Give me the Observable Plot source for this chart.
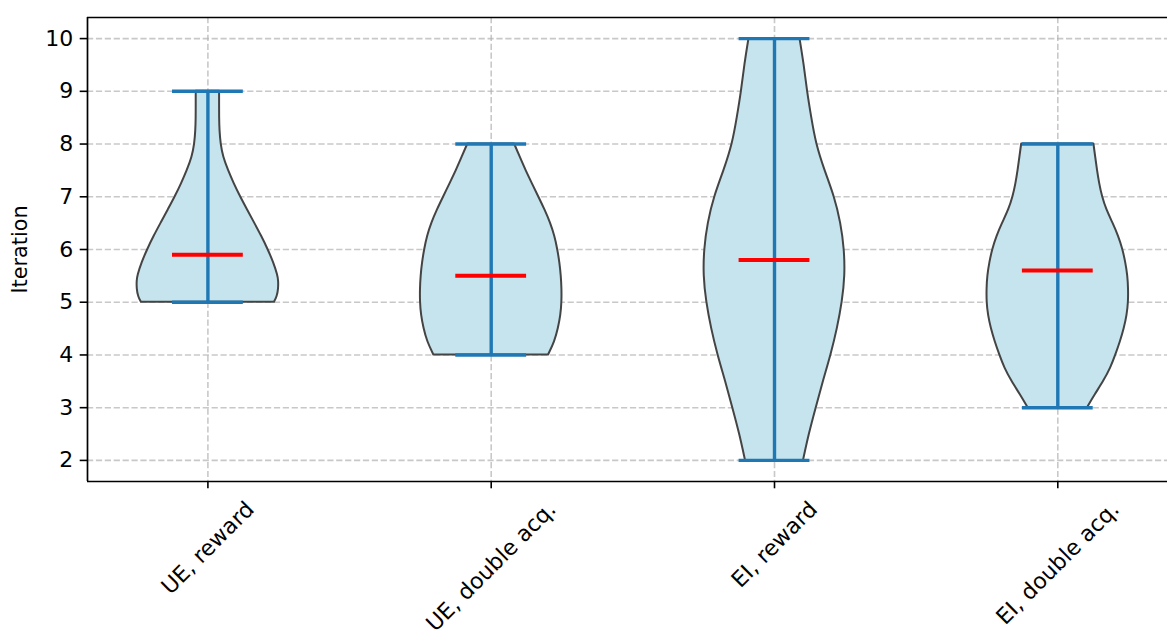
<!DOCTYPE html>
<html>
<head>
<meta charset="utf-8">
<script src="https://cdn.jsdelivr.net/npm/d3@7"></script>
<script src="https://cdn.jsdelivr.net/npm/@observablehq/plot@0.6"></script>
<style>
  html, body { margin: 0; padding: 0; background: #fff; overflow: hidden; }
  #chart svg { display: block; }
</style>
</head>
<body>
<div id="chart"></div>
<script>
// ---- data ----
const categories = ["UE, reward", "UE, double acq.", "EI, reward", "EI, double acq."];
const positions = [1, 2, 3, 4];
const mins = [5, 4, 2, 3];
const maxs = [9, 8, 10, 8];
const means = [5.9, 5.5, 5.8, 5.6];
const yTicks = [2, 3, 4, 5, 6, 7, 8, 9, 10];

// violin density profiles (relative, 1 = widest point)
const ueRewardY = [5, 5.1, 5.25, 5.4, 5.5, 5.75, 6, 6.25, 6.5, 6.75, 7, 7.25, 7.5, 7.75, 8, 8.25, 8.5, 8.75, 9];
const ueRewardD = [0.94, 0.98, 1.0, 1.0, 0.99, 0.93, 0.85, 0.76, 0.66, 0.56, 0.46, 0.37, 0.29, 0.22, 0.185, 0.17, 0.165, 0.165, 0.165];
const ueDoubleY = [4, 4.25, 4.5, 4.75, 5, 5.25, 5.5, 5.75, 6, 6.25, 6.5, 6.75, 7, 7.25, 7.5, 7.75, 8];
const ueDoubleD = [0.81, 0.90, 0.95, 0.985, 1.0, 1.0, 0.99, 0.97, 0.94, 0.90, 0.84, 0.76, 0.67, 0.58, 0.49, 0.41, 0.33];
const eiRewardY = [2, 2.5, 3, 3.5, 4, 4.5, 5, 5.5, 6, 6.5, 7, 7.5, 8, 8.5, 9, 9.5, 10];
const eiRewardD = [0.41, 0.49, 0.59, 0.69, 0.80, 0.89, 0.96, 1.0, 0.99, 0.94, 0.85, 0.71, 0.59, 0.525, 0.465, 0.42, 0.36];
const eiDoubleY = [3, 3.25, 3.5, 3.75, 4, 4.25, 4.5, 4.75, 5, 5.25, 5.5, 5.75, 6, 6.25, 6.5, 6.75, 7, 7.25, 7.5, 7.75, 8];
const eiDoubleD = [0.42, 0.53, 0.65, 0.75, 0.82, 0.885, 0.94, 0.98, 1.0, 1.0, 0.99, 0.96, 0.92, 0.86, 0.78, 0.69, 0.63, 0.59, 0.56, 0.535, 0.51];

const profilesY = [ueRewardY, ueDoubleY, eiRewardY, eiDoubleY];
const profilesD = [ueRewardD, ueDoubleD, eiRewardD, eiDoubleD];

// ---- layout / style ----
const W = 1167, H = 637;
const marginLeft = 87, marginRight = 0, marginTop = 17, marginBottom = 156;
const xDomain = [0.575, 0.575 + (W - marginLeft - marginRight) / 283.3];
const yDomain = [1.6, 10.4];
const halfWidth = 0.25;  // violin half width at max density
const barHalf = 0.125;   // caps / mean half width
const tickFont = 22;
const labelFont = 20.8;
const font = "DejaVu Sans";

const violinRows = [];
profilesY.forEach((ys, i) => {
  ys.forEach((y, j) => violinRows.push({cat: i, pos: positions[i], y, d: profilesD[i][j]}));
});
const stats = categories.map((c, i) => ({cat: c, pos: positions[i], min: mins[i], max: maxs[i], mean: means[i]}));

// label measurement for centred rotated tick labels
const ctx = document.createElement("canvas").getContext("2d");
ctx.font = `${tickFont}px '${font}'`;
const labelMarks = categories.map((c, i) => {
  const L = ctx.measureText(c).width;
  const boxH = (L + 1.17 * tickFont) / Math.SQRT2;
  return Plot.text([c], {
    x: [positions[i]], frameAnchor: "bottom", dy: 15 + boxH / 2,
    rotate: -45, textAnchor: "middle", lineAnchor: "middle",
    fontSize: tickFont, fill: "black"
  });
});

const chart = Plot.plot({
  width: W, height: H,
  marginLeft, marginRight, marginTop, marginBottom,
  style: {fontFamily: font, fontSize: tickFont + "px", background: "white", color: "black"},
  x: {type: "linear", domain: xDomain},
  y: {type: "linear", domain: yDomain},
  marks: [
    Plot.gridY(yTicks, {stroke: "#b0b0b0", strokeOpacity: 0.7, strokeWidth: 1.6, strokeDasharray: "6.2,2.7"}),
    Plot.gridX(positions, {stroke: "#b0b0b0", strokeOpacity: 0.7, strokeWidth: 1.6, strokeDasharray: "6.2,2.7"}),
    Plot.areaX(violinRows, {
      y: "y", z: "cat",
      x1: d => d.pos - halfWidth * d.d,
      x2: d => d.pos + halfWidth * d.d,
      fill: "#c6e4ee", stroke: "#444", strokeWidth: 2, curve: "basis"
    }),
    Plot.ruleX(stats, {x: "pos", y1: "min", y2: "max", stroke: "#1f77b4", strokeWidth: 3.4}),
    Plot.ruleY(stats, {y: "min", x1: d => d.pos - barHalf, x2: d => d.pos + barHalf, stroke: "#1f77b4", strokeWidth: 3.4}),
    Plot.ruleY(stats, {y: "max", x1: d => d.pos - barHalf, x2: d => d.pos + barHalf, stroke: "#1f77b4", strokeWidth: 3.4}),
    Plot.ruleY(stats, {y: "mean", x1: d => d.pos - barHalf, x2: d => d.pos + barHalf, stroke: "#ff0000", strokeWidth: 4}),
    Plot.ruleX([xDomain[0]], {stroke: "black", strokeWidth: 1.7}),
    Plot.ruleY([yDomain[0]], {stroke: "black", strokeWidth: 1.7}),
    Plot.ruleY([yDomain[1]], {stroke: "black", strokeWidth: 1.7}),
    Plot.axisY(yTicks, {tickSize: 7.3, tickPadding: 7, strokeWidth: 1.6, label: null, tickFormat: "d", fontSize: tickFont}),
    Plot.axisX(positions, {tickSize: 7.3, tickFormat: () => "", strokeWidth: 1.6, label: null}),
    ...labelMarks,
    Plot.text(["Iteration"], {frameAnchor: "left", dx: -67, rotate: -90, textAnchor: "middle", lineAnchor: "middle", fontSize: labelFont, fill: "black"})
  ]
});
document.getElementById("chart").appendChild(chart);
</script>
</body>
</html>
